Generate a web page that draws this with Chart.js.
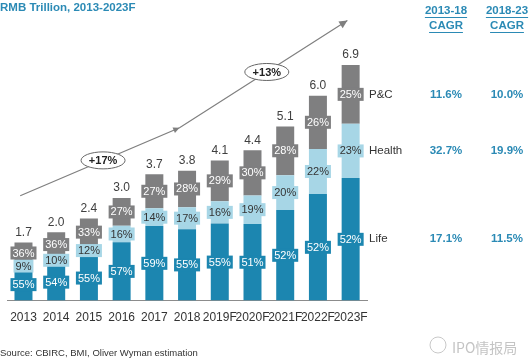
<!DOCTYPE html>
<html>
<head>
<meta charset="utf-8">
<script src="https://cdn.jsdelivr.net/npm/chart.js@4.4.1/dist/chart.umd.min.js"></script>
<style>
  html, body { margin: 0; padding: 0; background: #fff; }
  canvas { display: block; }
</style>
</head>
<body>
<canvas id="marketChart" width="531" height="359"></canvas>
<script>
// premium volume by line, RMB trillion
const years = ['2013', '2014', '2015', '2016', '2017', '2018', '2019F', '2020F', '2021F', '2022F', '2023F'];
const totals = [1.7, 2.0, 2.4, 3.0, 3.7, 3.8, 4.1, 4.4, 5.1, 6.0, 6.9];
const lifeShare = [55, 54, 55, 57, 59, 55, 55, 51, 52, 52, 52];
const healthShare = [9, 10, 12, 16, 14, 17, 16, 19, 20, 22, 23];
const pcShare = [36, 36, 33, 27, 27, 28, 29, 30, 28, 26, 25];

const seriesNames = ['Life', 'Health', 'P&C'];
const cagrHeaders = ['2013-18', '2018-23'];
const lifeCagr = ['17.1%', '11.5%'];
const healthCagr = ['32.7%', '19.9%'];
const pcCagr = ['11.6%', '10.0%'];
const growthLabels = ['+17%', '+13%'];

const FONT = '"Liberation Sans", Arial, sans-serif';
const BLUE_TEXT = '#2b8ab5';

document.addEventListener('DOMContentLoaded', () => {
  const toValues = shares => shares.map((s, i) => totals[i] * s / 100);

  // little boxed % labels in the middle of each segment + totals on top
  const segmentLabels = {
    id: 'segmentLabels',
    afterDatasetsDraw(chart) {
      const ctx = chart.ctx;
      ctx.save();
      ctx.font = '11px ' + FONT;
      ctx.textAlign = 'center';
      ctx.textBaseline = 'middle';
      chart.data.datasets.forEach((ds, di) => {
        const meta = chart.getDatasetMeta(di);
        meta.data.forEach((bar, i) => {
          const yMid = (bar.y + bar.base) / 2;
          const txt = ds.shares[i] + '%';
          const w = ctx.measureText(txt).width + 4;
          ctx.fillStyle = ds.backgroundColor;
          ctx.fillRect(bar.x - w / 2, yMid - 6.5, w, 13);
          ctx.fillStyle = ds.labelColor;
          ctx.fillText(txt, bar.x, yMid + 0.5);
        });
      });
      // totals
      const top = chart.getDatasetMeta(chart.data.datasets.length - 1);
      ctx.font = '12px ' + FONT;
      ctx.fillStyle = '#404040';
      top.data.forEach((bar, i) => {
        ctx.fillText(totals[i].toFixed(1), bar.x, bar.y - 10);
      });
      ctx.restore();
    }
  };

  // titles, CAGR table, growth arrow, source line
  const decorations = {
    id: 'decorations',
    afterDraw(chart) {
      const ctx = chart.ctx;
      const xs = chart.scales.x;
      const ys = chart.scales.y;
      const area = chart.chartArea;
      ctx.save();

      ctx.textBaseline = 'middle';
      ctx.textAlign = 'left';
      ctx.fillStyle = BLUE_TEXT;
      ctx.font = 'bold 11.5px ' + FONT;
      ctx.fillText('RMB Trillion, 2013-2023F', 0, 8);

      // growth arrow, anchored in data space (index, value)
      const px = p => [xs.getPixelForValue(p[0]), ys.getPixelForValue(p[1])];
      const a = px([-0.1, 3.07]);
      const b = px([4.77, 5.06]);
      const c = px([9.9, 8.2]);
      ctx.strokeStyle = '#7f7f7f';
      ctx.fillStyle = '#7f7f7f';
      ctx.lineWidth = 1.2;
      ctx.beginPath();
      ctx.moveTo(a[0], a[1]);
      ctx.lineTo(b[0], b[1]);
      ctx.lineTo(c[0], c[1]);
      ctx.stroke();
      const head = (from, to, size) => {
        const ang = Math.atan2(to[1] - from[1], to[0] - from[0]);
        ctx.beginPath();
        ctx.moveTo(to[0], to[1]);
        ctx.lineTo(to[0] - size * Math.cos(ang - 0.45), to[1] - size * Math.sin(ang - 0.45));
        ctx.lineTo(to[0] - size * Math.cos(ang + 0.45), to[1] - size * Math.sin(ang + 0.45));
        ctx.closePath();
        ctx.fill();
      };
      head(a, b, 7);
      head(b, c, 9);

      // ellipses with growth rates
      [[a, b], [b, c]].forEach((seg, k) => {
        const cx = seg[0][0] + (seg[1][0] - seg[0][0]) * 0.52;
        const cy = seg[0][1] + (seg[1][1] - seg[0][1]) * 0.52;
        ctx.beginPath();
        ctx.ellipse(cx, cy, 22, 8.5, 0, 0, Math.PI * 2);
        ctx.fillStyle = '#fff';
        ctx.fill();
        ctx.strokeStyle = '#666';
        ctx.lineWidth = 1;
        ctx.stroke();
        ctx.fillStyle = '#222';
        ctx.font = 'bold 11px ' + FONT;
        ctx.textAlign = 'center';
        ctx.fillText(growthLabels[k], cx, cy + 0.5);
      });

      // series names next to the last bar
      const metas = chart.data.datasets.map((d, di) => chart.getDatasetMeta(di));
      const last = years.length - 1;
      const rowY = metas.map(m => (m.data[last].y + m.data[last].base) / 2);
      ctx.textAlign = 'left';
      ctx.fillStyle = '#333';
      ctx.font = '11.5px ' + FONT;
      seriesNames.forEach((n, di) => ctx.fillText(n, area.right + 2, rowY[di]));

      // CAGR columns
      const colX = [area.right + 79, area.right + 140];
      ctx.textAlign = 'center';
      ctx.fillStyle = BLUE_TEXT;
      ctx.strokeStyle = BLUE_TEXT;
      ctx.font = 'bold 11.5px ' + FONT;
      ctx.lineWidth = 1;
      cagrHeaders.forEach((h, k) => {
        [h, 'CAGR'].forEach((t, r) => {
          const y = 11 + r * 15;
          ctx.fillText(t, colX[k], y);
          const w = ctx.measureText(t).width;
          ctx.beginPath();
          ctx.moveTo(colX[k] - w / 2, y + 6.5);
          ctx.lineTo(colX[k] + w / 2, y + 6.5);
          ctx.stroke();
        });
      });
      [lifeCagr, healthCagr, pcCagr].forEach((vals, di) => {
        vals.forEach((v, k) => ctx.fillText(v, colX[k], rowY[di]));
      });

      // source + watermark
      ctx.textAlign = 'left';
      ctx.fillStyle = '#333';
      ctx.font = '9.5px ' + FONT;
      ctx.fillText('Source: CBIRC, BMI, Oliver Wyman estimation', 0, 353);
      ctx.fillStyle = '#c4c4c4';
      ctx.font = '14px "Noto Sans CJK SC", ' + FONT;
      ctx.fillText('IPO情报局', 452, 348);
      ctx.strokeStyle = '#c8c8c8';
      ctx.beginPath();
      ctx.arc(438, 345, 8, 0, Math.PI * 2);
      ctx.stroke();

      ctx.restore();
    }
  };

  new Chart(document.getElementById('marketChart'), {
    type: 'bar',
    data: {
      labels: years,
      datasets: [
        { label: 'Life', data: toValues(lifeShare), shares: lifeShare, backgroundColor: '#1c86b0', labelColor: '#ffffff' },
        { label: 'Health', data: toValues(healthShare), shares: healthShare, backgroundColor: '#a7d6e6', labelColor: '#333333' },
        { label: 'P&C', data: toValues(pcShare), shares: pcShare, backgroundColor: '#7f7f80', labelColor: '#ffffff' }
      ]
    },
    options: {
      responsive: false,
      animation: false,
      layout: { padding: { left: 3, right: 164, top: 0, bottom: 24 } },
      datasets: { bar: { categoryPercentage: 1, barPercentage: 0.55, borderWidth: 0 } },
      plugins: { legend: { display: false }, tooltip: { enabled: false } },
      scales: {
        x: {
          stacked: true,
          grid: { display: false, drawTicks: false },
          border: { display: true, color: '#8c8c8c' },
          ticks: { autoSkip: false, maxRotation: 0, padding: 10, color: '#333', font: { family: FONT, size: 12 } }
        },
        y: {
          stacked: true,
          display: false,
          min: 0,
          max: 8.8
        }
      }
    },
    plugins: [segmentLabels, decorations]
  });
});
</script>
</body>
</html>
